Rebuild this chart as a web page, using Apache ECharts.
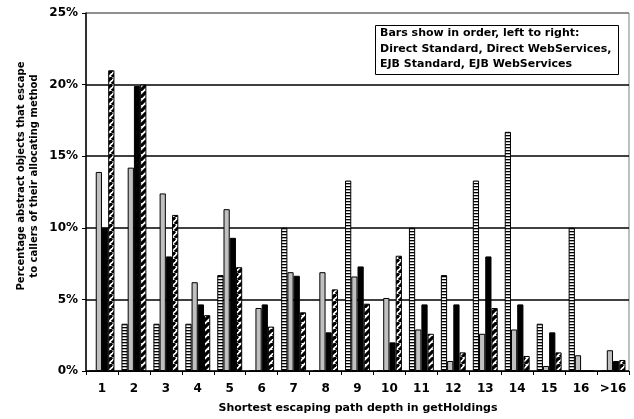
<!DOCTYPE html>
<html><head><meta charset="utf-8">
<script src="https://cdn.jsdelivr.net/npm/echarts@6/dist/echarts.min.js"></script>
<style>html,body{margin:0;padding:0;background:#fff;}#c{width:634px;height:419px;}</style>
</head><body><div id="c"></div>
<script>
var categories = ['1','2','3','4','5','6','7','8','9','10','11','12','13','14','15','16','>16'];
var directStandard = [0, 3.3, 3.3, 3.3, 6.7, 0, 10.0, 0, 13.3, 0, 10.0, 6.7, 13.3, 16.7, 3.3, 10.0, 0];
var directWebServices = [13.9, 14.2, 12.4, 6.2, 11.3, 4.4, 6.9, 6.9, 6.6, 5.1, 2.9, 0.7, 2.6, 2.9, 0.35, 1.1, 1.45];
var ejbStandard = [10.0, 19.9, 8.0, 4.65, 9.3, 4.65, 6.65, 2.7, 7.3, 2.0, 4.65, 4.65, 8.0, 4.65, 2.7, 0, 0.7];
var ejbWebServices = [21.0, 20.0, 10.9, 3.9, 7.25, 3.1, 4.1, 5.7, 4.7, 8.05, 2.6, 1.3, 4.4, 1.05, 1.3, 0, 0.77];
var yTicks = [0, 5, 10, 15, 20, 25];

function stripePattern() {
  var c = document.createElement('canvas'); c.width = 4; c.height = 3;
  var g = c.getContext('2d');
  g.fillStyle = '#fff'; g.fillRect(0, 0, 4, 3);
  g.fillStyle = '#000'; g.fillRect(0, 0, 4, 1.3);
  return {image: c, repeat: 'repeat'};
}
function hatchPattern() {
  var s = 7;
  var c = document.createElement('canvas'); c.width = s; c.height = s;
  var g = c.getContext('2d');
  g.fillStyle = '#fff'; g.fillRect(0, 0, s, s);
  g.strokeStyle = '#000'; g.lineWidth = 3.2;
  [-s, 0, s].forEach(function (k) { g.beginPath(); g.moveTo(k, s); g.lineTo(k + s, 0); g.stroke(); });
  return {image: c, repeat: 'repeat'};
}

var font = 'DejaVu Sans';
var chart = echarts.init(document.getElementById('c'), null, {renderer: 'canvas'});
function mk(name, data, color) {
  return {name: name, type: 'bar', data: data, barGap: '0%', barCategoryGap: '22%',
    itemStyle: {color: color, borderColor: '#000', borderWidth: 1}, animation: false};
}
chart.setOption({
  animation: false,
  backgroundColor: '#fff',
  grid: {left: 86, right: 5, top: 13, bottom: 48, show: true, borderColor: '#808080', borderWidth: 1},
  xAxis: {type: 'category', data: categories,
    axisLine: {lineStyle: {color: '#000', width: 1}},
    axisTick: {show: true, length: 4, lineStyle: {color: '#000'}},
    axisLabel: {color: '#000', fontFamily: font, fontWeight: 'bold', fontSize: 12, margin: 12, interval: 0}},
  yAxis: {type: 'value', min: yTicks[0], max: yTicks[yTicks.length - 1], interval: 5,
    axisLine: {show: true, lineStyle: {color: '#000', width: 1.5}},
    axisTick: {show: true, length: 4, lineStyle: {color: '#000'}},
    splitLine: {lineStyle: {color: ['#000', '#000', '#000', '#000', '#000', '#808080'], width: 1.6}},
    axisLabel: {color: '#000', fontFamily: font, fontWeight: 'bold', fontSize: 12, margin: 8, formatter: '{value}%'}},
  series: [
    mk('Direct Standard', directStandard, stripePattern()),
    mk('Direct WebServices', directWebServices, '#c0c0c0'),
    mk('EJB Standard', ejbStandard, '#000'),
    mk('EJB WebServices', ejbWebServices, hatchPattern())
  ],
  graphic: [
    {type: 'text', x: 358, y: 408, style: {text: 'Shortest escaping path depth in getHoldings', font: 'bold 11px "DejaVu Sans"', fill: '#000', textAlign: 'center', textVerticalAlign: 'middle'}},
    {type: 'text', x: 28, y: 176, rotation: Math.PI / 2, style: {text: 'Percentage abstract objects that escape\nto callers of their allocating method', font: 'bold 10px "DejaVu Sans"', fill: '#000', textAlign: 'center', textVerticalAlign: 'middle', lineHeight: 13}},
    {type: 'rect', shape: {x: 375.5, y: 25.5, width: 243, height: 49}, style: {fill: '#fff', stroke: '#000', lineWidth: 1}, z: 100},
    {type: 'text', x: 380, y: 33, z: 101, style: {text: 'Bars show in order, left to right:', font: 'bold 11px "DejaVu Sans"', fill: '#000', textVerticalAlign: 'middle'}},
    {type: 'text', x: 380, y: 49, z: 101, style: {text: 'Direct Standard, Direct WebServices,', font: 'bold 11px "DejaVu Sans"', fill: '#000', textVerticalAlign: 'middle'}},
    {type: 'text', x: 380, y: 64, z: 101, style: {text: 'EJB Standard, EJB WebServices', font: 'bold 11px "DejaVu Sans"', fill: '#000', textVerticalAlign: 'middle'}}
  ]
});
</script></body></html>
